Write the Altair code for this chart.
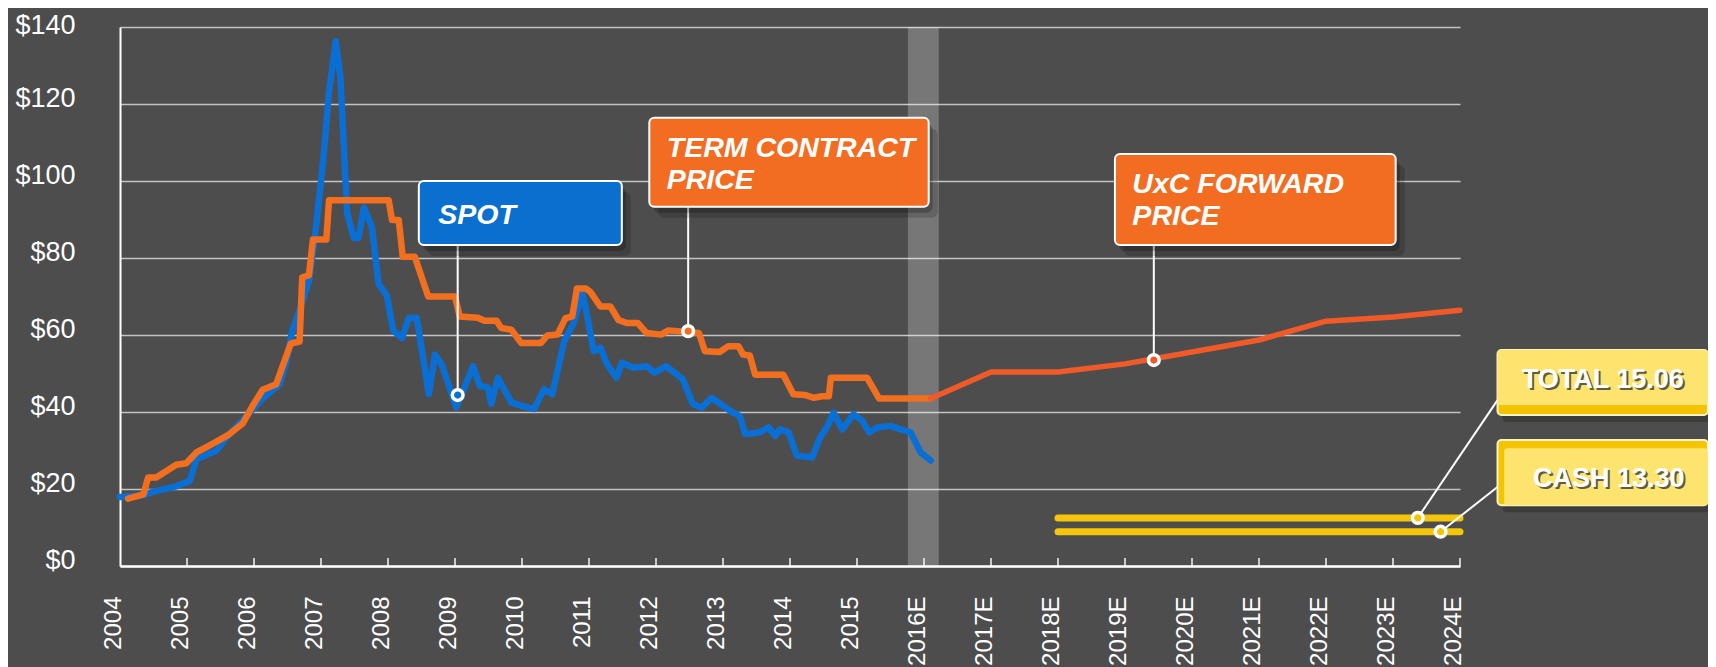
import altair as alt
import pandas as pd

# ---------------- data ----------------
spot_year = [2004.00, 2004.35, 2004.50, 2004.84, 2005.04, 2005.14, 2005.44, 2005.63, 2005.88,
             2006.13, 2006.38, 2006.48, 2006.57, 2006.72, 2006.82, 2006.90, 2006.97, 2007.04,
             2007.12, 2007.22, 2007.29, 2007.34, 2007.39, 2007.49, 2007.56, 2007.64, 2007.76,
             2007.86, 2007.98, 2008.08, 2008.21, 2008.31, 2008.43, 2008.61, 2008.70, 2008.80,
             2009.02, 2009.27, 2009.37, 2009.49, 2009.54, 2009.64, 2009.84, 2009.99, 2010.18,
             2010.33, 2010.45, 2010.63, 2010.77, 2010.90, 2010.97, 2011.07, 2011.17, 2011.27,
             2011.41, 2011.49, 2011.66, 2011.86, 2011.98, 2012.15, 2012.40, 2012.55, 2012.68,
             2012.83, 2013.00, 2013.15, 2013.25, 2013.33, 2013.55, 2013.68, 2013.78, 2013.85,
             2013.98, 2014.10, 2014.33, 2014.45, 2014.55, 2014.65, 2014.78, 2014.95, 2015.08,
             2015.18, 2015.30, 2015.50, 2015.65, 2015.80, 2015.95, 2016.10]
spot_price = [17.9, 18.4, 19.3, 20.7, 22.1, 27.7, 30.0, 34.2, 38.8,
              43.5, 47.2, 52.7, 61.0, 68.5, 74.1, 84.0, 95.1, 106.6,
              123.1, 136.3, 127.0, 109.4, 91.7, 85.2, 85.2, 93.1, 88.0,
              73.2, 70.4, 61.1, 59.2, 64.4, 64.4, 44.6, 54.9, 52.4,
              41.2, 51.9, 46.8, 46.4, 42.1, 48.9, 42.5, 41.6, 40.8,
              45.9, 44.6, 58.4, 63.1, 70.8, 65.2, 55.8, 56.7, 52.4,
              48.9, 52.8, 51.5, 51.9, 50.2, 51.9, 48.5, 42.1, 41.1,
              43.7, 41.6, 39.8, 39.0, 34.3, 34.7, 36.0, 33.8, 35.5,
              34.7, 28.7, 28.2, 33.4, 36.0, 39.8, 35.5, 39.4, 37.7,
              34.7, 36.0, 36.4, 35.5, 34.7, 29.5, 27.4]

term_year = [2004.12, 2004.35, 2004.42, 2004.54, 2004.84, 2004.99, 2005.14, 2005.29, 2005.44,
             2005.63, 2005.83, 2005.98, 2006.13, 2006.33, 2006.55, 2006.68, 2006.72, 2006.82,
             2006.88, 2007.08, 2007.12, 2008.01, 2008.06, 2008.16, 2008.22, 2008.40, 2008.60,
             2009.00, 2009.07, 2009.34, 2009.44, 2009.62, 2009.69, 2009.84, 2009.99, 2010.28,
             2010.38, 2010.53, 2010.65, 2010.75, 2010.82, 2010.95, 2011.02, 2011.17, 2011.32,
             2011.44, 2011.56, 2011.73, 2011.86, 2012.08, 2012.18, 2012.64, 2012.73, 2012.95,
             2013.08, 2013.23, 2013.30, 2013.40, 2013.48, 2013.90, 2014.05, 2014.23, 2014.35,
             2014.48, 2014.58, 2014.61, 2015.15, 2015.33, 2016.10]
term_price = [17.5, 18.6, 23.0, 23.0, 26.3, 26.7, 29.5, 30.9, 32.3,
              34.2, 37.0, 41.6, 45.8, 47.2, 57.8, 58.3, 75.0, 75.5,
              84.8, 84.8, 95.0, 95.0, 89.9, 89.9, 80.3, 80.3, 70.0,
              70.0, 64.8, 64.5, 63.7, 63.7, 61.8, 61.4, 57.9, 57.9,
              59.9, 60.1, 64.4, 64.8, 72.1, 72.1, 71.2, 67.4, 67.4,
              63.9, 63.1, 63.1, 60.5, 60.1, 61.2, 60.5, 55.8, 55.6,
              57.1, 57.1, 54.9, 54.7, 49.7, 49.7, 44.6, 44.4, 43.7,
              44.1, 44.1, 48.9, 48.9, 43.5, 43.5]

fwd_year = [2016.10, 2017.0, 2018.0, 2019.0, 2020.0, 2021.0, 2022.0, 2023.0, 2024.0]
fwd_price = [43.5, 50.4, 50.4, 52.5, 55.6, 58.7, 63.6, 64.7, 66.4]

yellow_start = [2018.0, 2018.0]
yellow_end = [2024.0, 2024.0]
yellow_level = [12.5, 8.9]

tick_years = list(range(2004, 2025))
y_ticks = [0, 20, 40, 60, 80, 100, 120, 140]

band_from, band_to = 2015.76, 2016.22

# callouts (positions in data units)
box_x = [2008.46, 2011.90, 2018.85]
box_x2 = [2011.49, 2016.07, 2023.04]
box_y = [83.4, 93.3, 83.4]
box_y2 = [100.0, 116.4, 107.0]
box_fill = ["#0b6fcf", "#f26d21", "#f26d21"]

label_x = [2008.75, 2012.16, 2012.16, 2019.11, 2019.11]
label_y = [88.8, 106.3, 97.8, 96.8, 88.6]
label_text = ["SPOT", "TERM CONTRACT", "PRICE", "UxC FORWARD", "PRICE"]

ybox_x = [2024.56, 2024.56, 2024.56, 2024.66]
ybox_x2 = [2027.70, 2027.70, 2027.70, 2027.70]
ybox_y = [39.2, 41.8, 15.8, 15.8]
ybox_y2 = [56.1, 56.1, 32.7, 30.6]
ybox_fill = ["#f5c400", "#fde46e", "#f5c400", "#fde46e"]

ylabel_x = [2026.13, 2026.22]
ylabel_y = [46.2, 20.6]
ylabel_text = ["TOTAL 15.06", "CASH 13.30"]

lead_x = [2009.04, 2012.48, 2019.43, 2024.56, 2024.56]
lead_y = [83.4, 93.3, 83.4, 43.1, 20.5]
lead_x2 = [2009.04, 2012.48, 2019.43, 2023.37, 2023.71]
lead_y2 = [44.4, 61.0, 53.5, 12.5, 8.9]
marker_fill = ["#0a6fd4", "#f26d21", "#f05a28", "#f5c400", "#f5c400"]

# ---------------- colours ----------------
BG = "#4d4d4d"
BLUE = "#0a6fd4"
ORANGE = "#f36f20"
FWD = "#f05a28"
YELLOW = "#f5c50c"
FONT = "Liberation Sans"

# ---------------- scales / axes ----------------
xs = alt.Scale(domain=[2004, 2024], nice=False, zero=False)
ys = alt.Scale(domain=[0, 140], nice=False, zero=True)
xaxis = alt.Axis(values=tick_years, title=None, grid=False, ticks=False,
                 labelAngle=270, labelBaseline="alphabetic", labelAlign="right",
                 labelPadding=30, labelFontSize=24, labelColor="white", labelFont=FONT,
                 domainColor="white", domainWidth=2.5, labelOverlap=False,
                 labelExpr="datum.value > 2015 ? datum.value + 'E' : '' + datum.value")
yaxis = alt.Axis(values=y_ticks, title=None, grid=True, gridColor="#c4c4c4", gridWidth=1.5,
                 ticks=False, labelPadding=45, labelFontSize=27, labelColor="white",
                 labelFont=FONT, labelBaseline="alphabetic",
                 labelOffset={"condition": {"test": "datum.value == 140", "value": 6}, "value": 2},
                 domainColor="white", domainWidth=2,
                 labelExpr="'$' + datum.value")

X = alt.X("x:Q", scale=xs, axis=xaxis)
Y = alt.Y("y:Q", scale=ys, axis=yaxis)

# ---------------- layers ----------------
band = alt.Chart(pd.DataFrame({"x": [band_from], "x2": [band_to], "y": [0], "y2": [140]})).mark_rect(
    color="white", opacity=0.24).encode(x=X, x2="x2:Q", y=Y, y2="y2:Q")

spot = alt.Chart(pd.DataFrame({"x": spot_year, "y": spot_price})).mark_line(
    color=BLUE, strokeWidth=6.5, strokeJoin="round", strokeCap="round").encode(x=X, y=Y)

term = alt.Chart(pd.DataFrame({"x": term_year, "y": term_price})).mark_line(
    color=ORANGE, strokeWidth=6.5, strokeJoin="round", strokeCap="round").encode(x=X, y=Y)

fwd = alt.Chart(pd.DataFrame({"x": fwd_year, "y": fwd_price})).mark_line(
    color=FWD, strokeWidth=5.5, strokeJoin="round", strokeCap="round").encode(x=X, y=Y)

yellow = alt.Chart(pd.DataFrame({"x": yellow_start, "x2": yellow_end, "y": yellow_level})).mark_rule(
    color=YELLOW, strokeWidth=7, strokeCap="round").encode(x=X, x2="x2:Q", y=Y)

ticks = alt.Chart(pd.DataFrame({"x": tick_years[1:], "y": [0] * (len(tick_years) - 1)})).mark_tick(
    color="white", orient="vertical", size=8, thickness=2, yOffset=-4).encode(x=X, y=Y)

leaders = alt.Chart(pd.DataFrame({"x": lead_x, "y": lead_y, "x2": lead_x2, "y2": lead_y2})).mark_rule(
    color="white", strokeWidth=2).encode(x=X, y=Y, x2="x2:Q", y2="y2:Q")

boxes_df = pd.DataFrame({"x": box_x, "x2": box_x2, "y": box_y, "y2": box_y2, "fill": box_fill})
shadow1 = alt.Chart(boxes_df).mark_rect(color="black", opacity=0.16, cornerRadius=6,
                                        xOffset=9, x2Offset=9, yOffset=11, y2Offset=11).encode(
    x=X, x2="x2:Q", y=Y, y2="y2:Q")
shadow2 = alt.Chart(boxes_df).mark_rect(color="black", opacity=0.22, cornerRadius=6,
                                        xOffset=4, x2Offset=4, yOffset=6, y2Offset=6).encode(
    x=X, x2="x2:Q", y=Y, y2="y2:Q")
boxes = alt.Chart(boxes_df).mark_rect(stroke="white", strokeWidth=2, cornerRadius=5).encode(
    x=X, x2="x2:Q", y=Y, y2="y2:Q", fill=alt.Fill("fill:N", scale=None))

labels = alt.Chart(pd.DataFrame({"x": label_x, "y": label_y, "t": label_text})).mark_text(
    font=FONT, fontSize=28.5, fontWeight="bold", fontStyle="italic", color="white",
    align="left", baseline="alphabetic").encode(x=X, y=Y, text="t:N")

ybox_df = pd.DataFrame({"x": ybox_x, "x2": ybox_x2, "y": ybox_y, "y2": ybox_y2, "fill": ybox_fill})
yshadow = alt.Chart(ybox_df.iloc[[0, 2]]).mark_rect(color="black", opacity=0.22, cornerRadius=4,
                                                    xOffset=5, x2Offset=5, yOffset=7, y2Offset=7).encode(
    x=X, x2="x2:Q", y=Y, y2="y2:Q")
ybox_outer = alt.Chart(ybox_df.iloc[[0, 2]]).mark_rect(stroke="#fff3c4", strokeWidth=2, cornerRadius=4).encode(
    x=X, x2="x2:Q", y=Y, y2="y2:Q", fill=alt.Fill("fill:N", scale=None))
ybox_inner = alt.Chart(ybox_df.iloc[[1, 3]]).mark_rect(cornerRadius=3).encode(
    x=X, x2="x2:Q", y=Y, y2="y2:Q", fill=alt.Fill("fill:N", scale=None))

ylab_df = pd.DataFrame({"x": ylabel_x, "y": ylabel_y, "t": ylabel_text})
ylab_shadow = alt.Chart(ylab_df).mark_text(
    font=FONT, fontSize=27, fontWeight="bold", color="#3a3a3a", opacity=0.8,
    align="center", baseline="alphabetic", dx=2, dy=2).encode(x=X, y=Y, text="t:N")
ylab = alt.Chart(ylab_df).mark_text(
    font=FONT, fontSize=27, fontWeight="bold", color="white",
    align="center", baseline="alphabetic").encode(x=X, y=Y, text="t:N")

markers = alt.Chart(pd.DataFrame({"x": lead_x2, "y": lead_y2, "fill": marker_fill})).mark_point(
    filled=True, size=115, stroke="white", strokeWidth=3.5, strokeOpacity=1, opacity=1, shape="circle").encode(
    x=X, y=Y, fill=alt.Fill("fill:N", scale=None))

chart = alt.layer(
    band, spot, term, fwd, yellow, ticks, leaders,
    shadow1, shadow2, boxes, labels,
    yshadow, ybox_outer, ybox_inner, ylab_shadow, ylab,
    markers,
).properties(
    width=1340, height=539, background=BG,
    padding={"left": 112, "top": 19, "right": 248, "bottom": 101},
    autosize=alt.AutoSizeParams(type="none"),
).configure_view(stroke=None)

chart.save("out.html", embed_options={"renderer": "svg", "actions": False})
